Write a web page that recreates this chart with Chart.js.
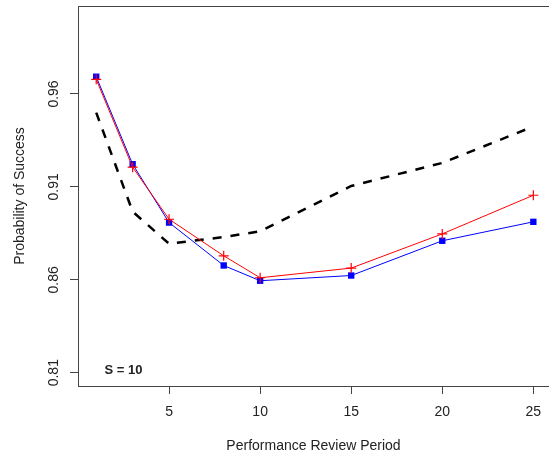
<!DOCTYPE html>
<html>
<head>
<meta charset="utf-8">
<script src="https://cdn.jsdelivr.net/npm/chart.js@4.4.1/dist/chart.umd.min.js"></script>
<style>
  html, body { margin: 0; padding: 0; background: #fff; }
  canvas { display: block; }
</style>
</head>
<body>
<canvas id="successChart" width="549" height="462"></canvas>
<script>
const periods = [1, 3, 5, 8, 10, 15, 20, 25]
const blueSeries = [0.9693, 0.9222, 0.8908, 0.8677, 0.8595, 0.8623, 0.8810, 0.8912]
const redSeries = [0.9679, 0.9206, 0.8926, 0.8729, 0.8611, 0.8663, 0.8847, 0.9055]
const dashedSeries = [0.9500, 0.8967, 0.8794, 0.8830, 0.8861, 0.9105, 0.9229, 0.9425]
const xTicks = [5, 10, 15, 20, 25]
const yTicks = [0.81, 0.86, 0.91, 0.96]
const yTickLabels = ['0.81', '0.86', '0.91', '0.96']
const panelLabel = 'S = 10'
const panelLabelAt = { x: 2.5, y: 0.8113 }

const fontFamily = '"Liberation Sans", Arial, sans-serif'
const axisColor = '#444'
const textColor = '#222'

function toPoints(values) {
  return periods.map((p, i) => ({ x: p, y: values[i] }))
}

const extrasPlugin = {
  id: 'extras',
  afterDraw(chart) {
    const { ctx, chartArea } = chart
    const xScale = chart.scales.x
    const yScale = chart.scales.y
    ctx.save()

    // top edge of the box
    ctx.strokeStyle = axisColor
    ctx.lineWidth = 1
    ctx.beginPath()
    ctx.moveTo(chartArea.left, chartArea.top + 0.5)
    ctx.lineTo(chartArea.right, chartArea.top + 0.5)
    ctx.stroke()

    // rotated y tick labels, R style
    ctx.fillStyle = textColor
    ctx.font = '14px ' + fontFamily
    ctx.textAlign = 'center'
    ctx.textBaseline = 'middle'
    yTicks.forEach((v, i) => {
      const y = yScale.getPixelForValue(v)
      ctx.save()
      ctx.translate(54, y)
      ctx.rotate(-Math.PI / 2)
      ctx.fillText(yTickLabels[i], 0, 0)
      ctx.restore()
    })

    // panel label
    ctx.font = 'bold 13px ' + fontFamily
    ctx.fillText(panelLabel, xScale.getPixelForValue(panelLabelAt.x), yScale.getPixelForValue(panelLabelAt.y))
    ctx.restore()
  }
}

new Chart(document.getElementById('successChart'), {
  type: 'line',
  data: {
    datasets: [
      {
        label: 'red',
        data: toPoints(redSeries),
        borderColor: '#ff0000',
        borderWidth: 1,
        pointStyle: 'cross',
        pointRadius: 5,
        pointBorderWidth: 1.2,
        pointBorderColor: '#ff0000',
        tension: 0
      },
      {
        label: 'blue',
        data: toPoints(blueSeries),
        borderColor: '#0000ff',
        borderWidth: 1,
        pointStyle: 'rect',
        pointRadius: 4.5,
        pointBorderWidth: 0,
        pointBackgroundColor: '#0000ff',
        tension: 0
      },
      {
        label: 'dashed',
        data: toPoints(dashedSeries),
        borderColor: '#000000',
        borderWidth: 2.5,
        borderDash: [9, 9],
        pointRadius: 0,
        tension: 0
      }
    ]
  },
  options: {
    responsive: false,
    animation: false,
    devicePixelRatio: 1,
    layout: {
      autoPadding: false,
      padding: { top: 6, right: 0, bottom: 0, left: 0 }
    },
    plugins: {
      legend: { display: false },
      tooltip: { enabled: false }
    },
    scales: {
      x: {
        type: 'linear',
        position: 'bottom',
        min: 0,
        max: 25.86,
        afterBuildTicks: (scale) => {
          scale.ticks = xTicks.map(v => ({ value: v }))
        },
        afterFit: (scale) => {
          scale.height = 76
          scale.paddingLeft = 0
          scale.paddingRight = 0
        },
        grid: {
          drawOnChartArea: false,
          drawTicks: true,
          tickLength: 8,
          color: axisColor
        },
        border: { display: true, color: axisColor, width: 1 },
        ticks: {
          autoSkip: false,
          maxRotation: 0,
          padding: 10,
          color: textColor,
          font: { family: fontFamily, size: 14 }
        },
        title: {
          display: true,
          text: 'Performance Review Period',
          color: textColor,
          font: { family: fontFamily, size: 14 },
          padding: { top: 0, bottom: 7 }
        }
      },
      y: {
        type: 'linear',
        position: 'left',
        min: 0.80284,
        max: 1.00736,
        afterBuildTicks: (scale) => {
          scale.ticks = yTicks.map(v => ({ value: v }))
        },
        afterFit: (scale) => {
          scale.width = 78
          scale.paddingTop = 0
          scale.paddingBottom = 0
        },
        grid: {
          drawOnChartArea: false,
          drawTicks: true,
          tickLength: 8,
          color: axisColor
        },
        border: { display: true, color: axisColor, width: 1 },
        ticks: { display: false },
        title: {
          display: true,
          text: 'Probability of Success',
          color: textColor,
          font: { family: fontFamily, size: 14 },
          padding: { top: 11.6, bottom: 0 }
        }
      }
    }
  },
  plugins: [extrasPlugin]
})
</script>
</body>
</html>
